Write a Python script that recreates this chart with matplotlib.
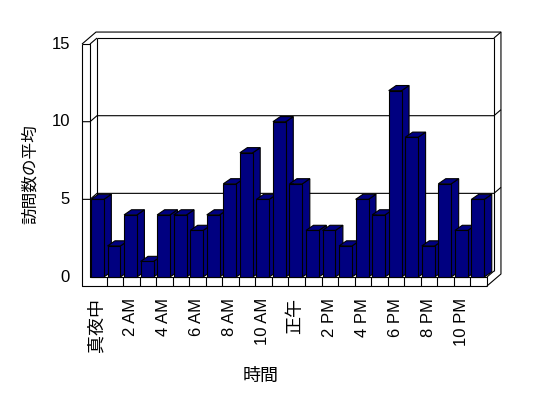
import matplotlib
matplotlib.use('Agg')
import matplotlib.pyplot as plt
from matplotlib.patches import Polygon

hours = list(range(24))
visits = [5, 2, 4, 1, 4, 4, 3, 4, 6, 8, 5, 10, 6, 3, 3, 2, 5, 4, 12, 9, 2, 6, 3, 5]
tick_labels = ['真夜中', '2 AM', '4 AM', '6 AM', '8 AM', '10 AM',
               '正午', '2 PM', '4 PM', '6 PM', '8 PM', '10 PM']
y_ticks = [0, 5, 10, 15]
x_title = '時間'
y_title = '訪問数の平均'

plt.rcParams['font.family'] = ['Liberation Sans', 'Noto Sans CJK JP']
plt.rcParams['font.size'] = 12

fig = plt.figure(figsize=(5.48, 3.98), dpi=100)
ax = fig.add_axes([0, 0, 1, 1])
# pixel scale of the original chart, so data units line up with the picture
sx, sy = 16.54, 15.53
x0, y0 = 90, 277
ax.set_xlim(-x0 / sx, (548 - x0) / sx)
ax.set_ylim(-(398 - y0) / sy, y0 / sy)
ax.axis('off')

n = len(hours)
ymax = y_ticks[-1]
dx, dy = 7 / sx, 6 / sy        # depth of the back wall
wt, ft = 8 / sx, 9 / sy        # wall / floor thickness
bdx, bdy = 0.45, 0.33          # bar depth
kw = dict(color='black', lw=0.8, solid_capstyle='butt')


def line(xs, ys, z=1):
    ax.plot(xs, ys, zorder=z, **kw)


# back wall, inner face + gridlines running over the left wall
for v in y_ticks[1:-1]:
    line([-wt, 0, dx, n + dx, n + 2 * dx], [v, v, v + dy, v + dy, v + 2 * dy])
line([dx, dx], [dy, ymax + dy])
line([dx, n + dx], [ymax + dy, ymax + dy])
line([n + dx, n + dx], [dy, ymax + dy])
line([n + dx, n + 2 * dx], [ymax + dy, ymax + 2 * dy])
# outer box
line([-wt, -wt + 2 * dx, n + 2 * dx, n + 2 * dx, n],
     [ymax, ymax + 2 * dy, ymax + 2 * dy, -ft + 2 * dy, -ft])
# left wall front
line([-wt, -wt, n], [ymax, -ft, -ft])
line([-wt, 0, 0, n, n], [ymax, ymax, 0, 0, -ft])
line([0, dx], [ymax, ymax + dy])
line([n, n + dx], [0, dy])
# floor front face divisions
for h in hours[1:]:
    line([h, h], [-ft, 0])

# 3d bars
bars = ax.bar([h + 0.06 for h in hours], visits, width=0.78, align='edge',
              color='#000080', edgecolor='black', lw=0.8)
for i, (h, v) in enumerate(zip(hours, visits)):
    xl, xr = h + 0.06, h + 0.84
    side = Polygon([(xr, 0), (xr, v), (xr + bdx, v + bdy), (xr + bdx, bdy)],
                   closed=True, fc='#000080', ec='black', lw=0.8, zorder=3 + 2 * i)
    top = Polygon([(xl, v), (xr, v), (xr + bdx, v + bdy), (xl + bdx, v + bdy)],
                  closed=True, fc='#000080', ec='black', lw=0.8, zorder=3 + 2 * i)
    ax.add_patch(side)
    ax.add_patch(top)
    bars[i].set_zorder(4 + 2 * i)

# labels
for v in y_ticks:
    ax.text(-20 / sx, v, str(v), ha='right', va='center')
for k, lab in enumerate(tick_labels):
    size = 12 if lab.isascii() else 13
    ax.text(hours[2 * k] + 0.45, -21 / sy, lab, rotation=90, ha='center',
            va='top', fontsize=size)
ax.text(10.3, -99 / sy, x_title, ha='center', va='center', fontsize=13)
ax.text(-60 / sx, 6.6, y_title, rotation=90, ha='center', va='center')

fig.savefig('out.png', dpi=100)
